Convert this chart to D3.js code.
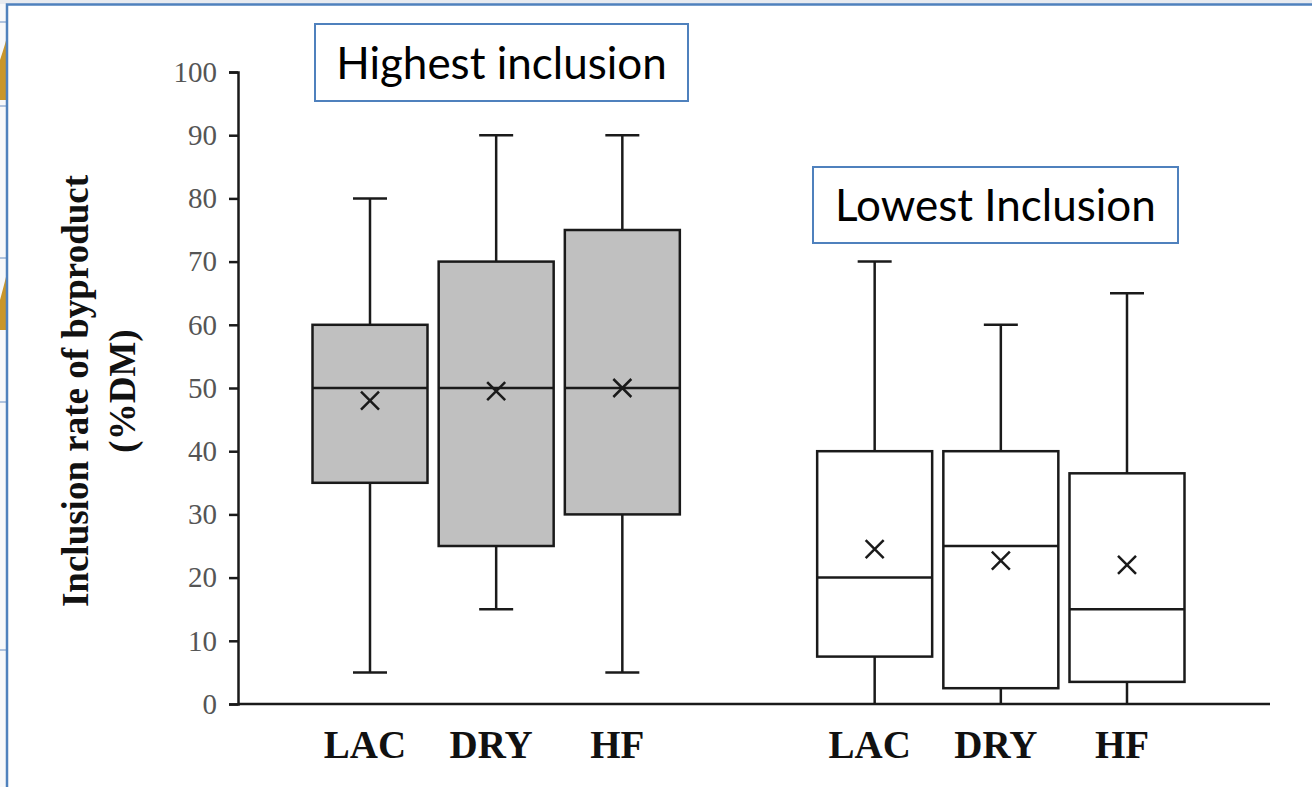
<!DOCTYPE html>
<html>
<head>
<meta charset="utf-8">
<script src="https://cdn.jsdelivr.net/npm/d3@7"></script>
<style>
  body { margin: 0; background: #fff; }
  svg { display: block; }
</style>
</head>
<body>
<div id="chart"></div>
<script>
// box plot data (%DM)
let groups = ["Highest inclusion", "Lowest Inclusion"];
let categories = ["LAC", "DRY", "HF"];
let whiskerLow = [5, 15, 5, 0, 0, 0];
let q1 = [35, 25, 30, 7.5, 2.5, 3.5];
let median = [50, 50, 50, 20, 25, 15];
let q3 = [60, 70, 75, 40, 40, 36.5];
let whiskerHigh = [80, 90, 90, 70, 60, 65];
let means = [48, 49.5, 50, 24.5, 22.7, 22];
let yTicks = [0, 10, 20, 30, 40, 50, 60, 70, 80, 90, 100];

let width = 1312, height = 787;
let svg = d3.select("#chart").append("svg")
    .attr("width", width)
    .attr("height", height);

// bits of the slide behind on the far left + blue frame
svg.append("rect").attr("x", 0).attr("y", 0).attr("width", 7).attr("height", height).attr("fill", "#f7f8fa");
svg.append("rect").attr("x", 0).attr("y", 0).attr("width", width).attr("height", 4).attr("fill", "#e8ebf0");
svg.append("path").attr("d", "M0,60 Q6,42 7,36 L7,100 L0,100 Z").attr("fill", "#c9962a");
svg.append("path").attr("d", "M0,300 Q6,278 7,272 L7,330 L0,330 Z").attr("fill", "#c9962a");
[22, 106, 258, 402, 650].forEach(yy =>
    svg.append("line").attr("x1", 0).attr("x2", 7).attr("y1", yy).attr("y2", yy)
       .attr("stroke", "#7fa0cc").attr("stroke-width", 1.2));
svg.append("path")
    .attr("d", `M7,${height} L7,4.5 L${width},4.5`)
    .attr("fill", "none").attr("stroke", "#4f81bd").attr("stroke-width", 2.5);

// scales: 7 slots, slot 3 is the gap between the two groups
let x = d3.scaleLinear().domain([0, 6]).range([370, 1127]);
let y = d3.scaleLinear().domain([0, 100]).range([704, 72]);
let slot = i => (i < 3 ? i : i + 1);
let boxW = 115, capW = 34;

let rows = whiskerLow.map((d, i) => ({
    lo: d, q1: q1[i], med: median[i], q3: q3[i], hi: whiskerHigh[i], mean: means[i],
    cat: categories[i % 3], grp: Math.floor(i / 3), cx: x(slot(i))
}));

let ink = "#1a1a1a";

// y axis
let yAxis = svg.append("g")
    .attr("transform", "translate(238,0)")
    .call(d3.axisLeft(y).tickValues(yTicks).tickSize(9).tickPadding(12));
yAxis.select(".domain").attr("stroke", ink).attr("stroke-width", 2.5);
yAxis.selectAll(".tick line").attr("stroke", ink).attr("stroke-width", 2.5);
yAxis.selectAll(".tick text")
    .attr("fill", "#555")
    .style("font-family", "'Liberation Serif', 'DejaVu Serif', serif")
    .style("font-size", "29px");

// x axis line
svg.append("line")
    .attr("x1", 238).attr("x2", 1270)
    .attr("y1", y(0)).attr("y2", y(0))
    .attr("stroke", ink).attr("stroke-width", 2.5);

// boxes
let box = svg.selectAll("g.box").data(rows).enter().append("g").attr("class", "box");

box.append("line") // lower whisker
    .attr("x1", d => d.cx).attr("x2", d => d.cx)
    .attr("y1", d => y(d.q1)).attr("y2", d => y(d.lo))
    .attr("stroke", ink).attr("stroke-width", 2.5);
box.append("line") // upper whisker
    .attr("x1", d => d.cx).attr("x2", d => d.cx)
    .attr("y1", d => y(d.q3)).attr("y2", d => y(d.hi))
    .attr("stroke", ink).attr("stroke-width", 2.5);
box.filter(d => d.lo > 0).append("line")
    .attr("x1", d => d.cx - capW / 2).attr("x2", d => d.cx + capW / 2)
    .attr("y1", d => y(d.lo)).attr("y2", d => y(d.lo))
    .attr("stroke", ink).attr("stroke-width", 2.5);
box.append("line")
    .attr("x1", d => d.cx - capW / 2).attr("x2", d => d.cx + capW / 2)
    .attr("y1", d => y(d.hi)).attr("y2", d => y(d.hi))
    .attr("stroke", ink).attr("stroke-width", 2.5);

box.append("rect")
    .attr("x", d => d.cx - boxW / 2)
    .attr("y", d => y(d.q3))
    .attr("width", boxW)
    .attr("height", d => y(d.q1) - y(d.q3))
    .attr("fill", d => d.grp === 0 ? "#c0c0c0" : "#fff")
    .attr("stroke", ink).attr("stroke-width", 2.5);
box.append("line") // median
    .attr("x1", d => d.cx - boxW / 2).attr("x2", d => d.cx + boxW / 2)
    .attr("y1", d => y(d.med)).attr("y2", d => y(d.med))
    .attr("stroke", ink).attr("stroke-width", 2.5);
box.append("path") // mean as x
    .attr("d", d => {
        let m = y(d.mean), s = 9;
        return `M${d.cx - s},${m - s}L${d.cx + s},${m + s}M${d.cx - s},${m + s}L${d.cx + s},${m - s}`;
    })
    .attr("stroke", ink).attr("stroke-width", 2.5);

// category labels
svg.selectAll("text.cat").data(rows).enter().append("text")
    .attr("class", "cat")
    .attr("x", d => d.cx - 5)
    .attr("y", 758)
    .attr("text-anchor", "middle")
    .style("font-family", "'Liberation Serif', 'DejaVu Serif', serif")
    .style("font-weight", "bold")
    .style("font-size", "39px")
    .attr("fill", "#111")
    .text(d => d.cat);

// y title
let yt = svg.append("text")
    .attr("transform", "translate(88,391) rotate(-90)")
    .attr("text-anchor", "middle")
    .style("font-family", "'Liberation Serif', 'DejaVu Serif', serif")
    .style("font-weight", "bold")
    .style("font-size", "37px")
    .attr("fill", "#111");
yt.append("tspan").attr("x", 0).attr("y", 0).text("Inclusion rate of byproduct");
yt.append("tspan").attr("x", 0).attr("y", 47).text("(%DM)");

// group label boxes
let labelBoxes = [
    {text: groups[0], x: 315, y: 24, w: 373, h: 77},
    {text: groups[1], x: 813, y: 167, w: 365, h: 76}
];
labelBoxes.forEach(b => {
    svg.append("rect")
        .attr("x", b.x).attr("y", b.y).attr("width", b.w).attr("height", b.h)
        .attr("fill", "#fff").attr("stroke", "#4f81bd").attr("stroke-width", 2);
    svg.append("text")
        .attr("x", b.x + b.w / 2).attr("y", b.y + b.h / 2 + 16)
        .attr("text-anchor", "middle")
        .style("font-family", "Lato, 'Open Sans', sans-serif")
        .style("font-size", "44px")
        .attr("fill", "#000")
        .text(b.text);
});
</script>
</body>
</html>
